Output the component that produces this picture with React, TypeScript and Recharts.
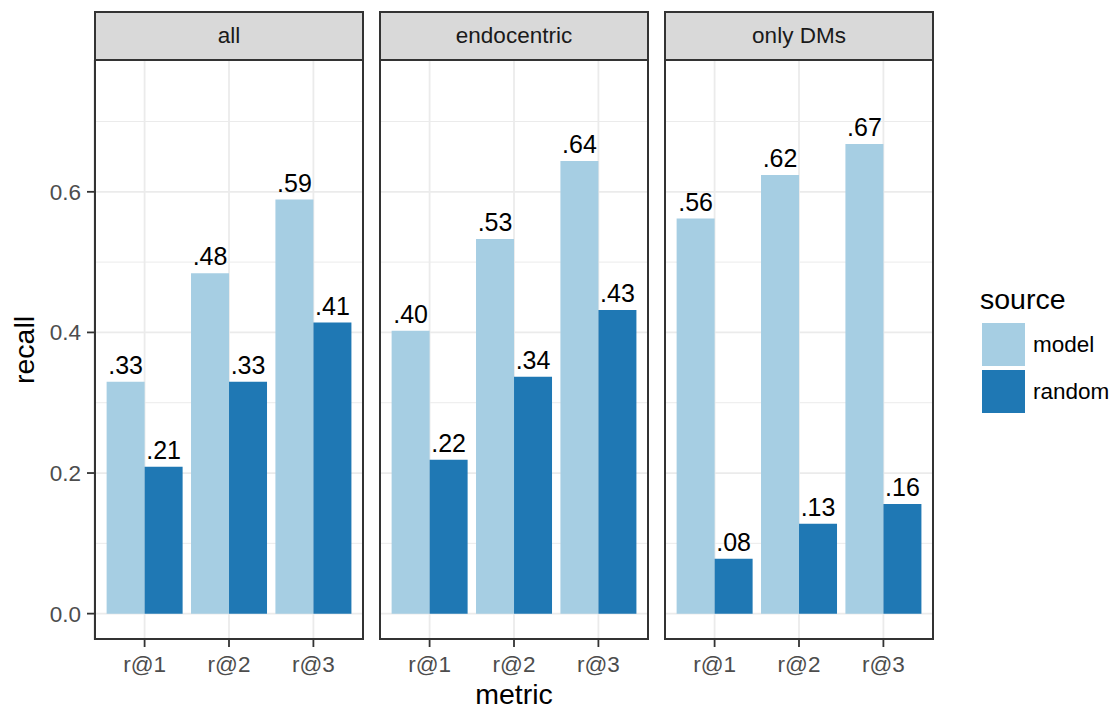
import React from "react"
import { BarChart, Bar, XAxis, YAxis, CartesianGrid, LabelList } from "recharts"

const categories = ["r@1", "r@2", "r@3"]
const facets = ["all", "endocentric", "only DMs"]

const modelAll = [0.33, 0.484, 0.589]
const randomAll = [0.209, 0.33, 0.414]
const modelEndo = [0.4025, 0.533, 0.644]
const randomEndo = [0.219, 0.337, 0.432]
const modelDMs = [0.562, 0.624, 0.668]
const randomDMs = [0.078, 0.128, 0.156]

const yTicks = [0, 0.2, 0.4, 0.6]
const yMinor = [0.1, 0.3, 0.5, 0.7]

const seriesByFacet = [
  [modelAll, randomAll],
  [modelEndo, randomEndo],
  [modelDMs, randomDMs],
]

const MODEL = "#a6cee3"
const RANDOM = "#1f78b4"
const FONT = "'Liberation Sans', Arial, Helvetica, sans-serif"

const panelLefts = [94, 379, 664]
const PANEL_W = 270
const PANEL_TOP = 60
const PANEL_H = 580
const Y_AXIS_W = 94

const fmt = (v: any) => Number(v).toFixed(2).replace(/^0/, "")

function Panel({ idx }: { idx: number }) {
  const [model, random] = seriesByFacet[idx]
  const data = categories.map((c, i) => ({ metric: c, model: model[i], random: random[i] }))
  const first = idx === 0
  const left = first ? panelLefts[idx] - Y_AXIS_W : panelLefts[idx]
  const width = first ? PANEL_W + Y_AXIS_W : PANEL_W
  return (
    <div style={{ position: "absolute", left, top: PANEL_TOP }}>
      <BarChart
        width={width}
        height={PANEL_H + 60}
        data={data}
        margin={{ top: 0, right: 0, bottom: 0, left: 0 }}
        barCategoryGap="5%"
        barGap={0}
      >
        <CartesianGrid
          horizontal
          vertical={false}
          horizontalValues={yMinor}
          stroke="#ebebeb"
          strokeWidth={1}
        />
        <CartesianGrid
          horizontal
          vertical
          horizontalValues={yTicks}
          stroke="#ebebeb"
          strokeWidth={1.8}
        />
        <XAxis
          dataKey="metric"
          type="category"
          padding={{ left: 8.4, right: 8.4 }}
          axisLine={false}
          tickLine={{ stroke: "#333333", strokeWidth: 1.8 }}
          tickSize={7}
          tickMargin={9}
          height={60}
          tick={{ fill: "#4d4d4d", fontSize: 22.5, fontFamily: FONT }}
        />
        <YAxis
          hide={!first}
          width={Y_AXIS_W}
          type="number"
          domain={[-0.0375, 0.7875]}
          allowDataOverflow
          ticks={yTicks}
          tickFormatter={(v: number) => v.toFixed(1)}
          axisLine={false}
          tickLine={{ stroke: "#333333", strokeWidth: 1.8 }}
          tickSize={7}
          tickMargin={6}
          tick={{ fill: "#4d4d4d", fontSize: 22.5, fontFamily: FONT }}
        />
        <Bar dataKey="model" fill={MODEL} isAnimationActive={false}>
          <LabelList
            dataKey="model"
            position="top"
            offset={8}
            formatter={fmt}
            fill="#000"
            fontSize={25}
            fontFamily={FONT}
          />
        </Bar>
        <Bar dataKey="random" fill={RANDOM} isAnimationActive={false}>
          <LabelList
            dataKey="random"
            position="top"
            offset={8}
            formatter={fmt}
            fill="#000"
            fontSize={25}
            fontFamily={FONT}
          />
        </Bar>
      </BarChart>
    </div>
  )
}

export default function App() {
  return (
    <div
      style={{
        position: "absolute",
        left: 0,
        top: 0,
        width: 1114,
        height: 711,
        background: "#fff",
        fontFamily: FONT,
        overflow: "hidden",
      }}
    >
      {facets.map((f, i) => (
        <React.Fragment key={f}>
          <Panel idx={i} />
          <div
            style={{
              position: "absolute",
              left: panelLefts[i],
              top: PANEL_TOP - 1,
              width: PANEL_W,
              height: PANEL_H + 1,
              border: "2px solid #333333",
              boxSizing: "border-box",
              pointerEvents: "none",
            }}
          />
          <div
            style={{
              position: "absolute",
              left: panelLefts[i],
              top: 11,
              width: PANEL_W,
              height: 50,
              background: "#d9d9d9",
              border: "2px solid #333333",
              boxSizing: "border-box",
              display: "flex",
              alignItems: "center",
              justifyContent: "center",
              fontSize: 22.5,
              color: "#1a1a1a",
            }}
          >
            {f}
          </div>
        </React.Fragment>
      ))}
      <div
        style={{
          position: "absolute",
          left: 24,
          top: 350,
          transform: "translate(-50%, -50%) rotate(-90deg)",
          fontSize: 28.5,
          color: "#000",
          whiteSpace: "nowrap",
        }}
      >
        recall
      </div>
      <div
        style={{
          position: "absolute",
          left: 514,
          top: 694,
          transform: "translate(-50%, -50%)",
          fontSize: 28.5,
          lineHeight: "30px",
          color: "#000",
          whiteSpace: "nowrap",
        }}
      >
        metric
      </div>
      <div style={{ position: "absolute", left: 980, top: 283, fontSize: 28.5, color: "#000" }}>source</div>
      {[
        { name: "model", color: MODEL, top: 323 },
        { name: "random", color: RANDOM, top: 370 },
      ].map((k) => (
        <React.Fragment key={k.name}>
          <div
            style={{
              position: "absolute",
              left: 982,
              top: k.top,
              width: 43,
              height: 43,
              background: k.color,
            }}
          />
          <div
            style={{
              position: "absolute",
              left: 1033,
              top: k.top + 21.5,
              transform: "translateY(-50%)",
              fontSize: 22.5,
              color: "#000",
              whiteSpace: "nowrap",
            }}
          >
            {k.name}
          </div>
        </React.Fragment>
      ))}
    </div>
  )
}
